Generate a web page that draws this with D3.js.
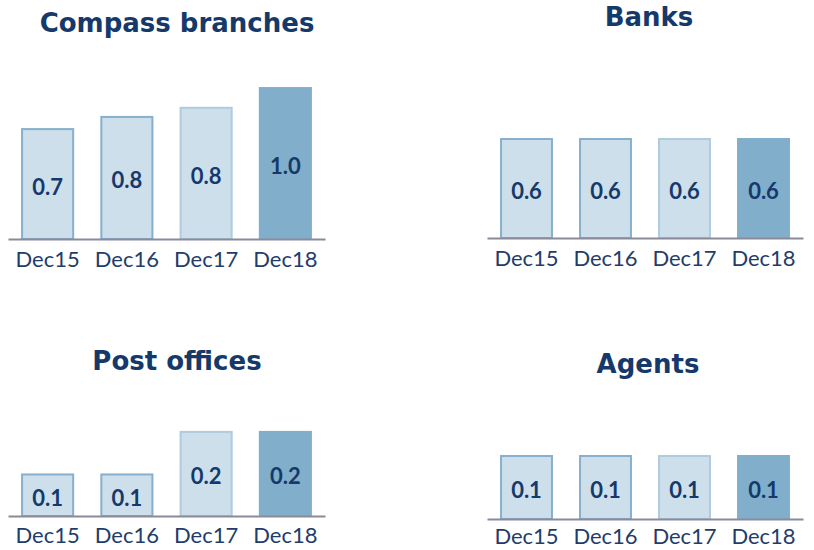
<!DOCTYPE html>
<html><head><meta charset="utf-8">
<script src="https://cdn.jsdelivr.net/npm/d3@7"></script>
<style>
html,body{margin:0;padding:0;background:#fff;}
svg{display:block;}
</style></head>
<body>
<svg id="chart" width="814" height="550"></svg>
<script>
const categories = ["Dec15", "Dec16", "Dec17", "Dec18"];
const compassValues = [0.73, 0.81, 0.87, 1.0];
const compassLabels = ["0.7", "0.8", "0.8", "1.0"];
const banksValues = [0.6, 0.6, 0.6, 0.6];
const banksLabels = ["0.6", "0.6", "0.6", "0.6"];
const postValues = [0.1, 0.1, 0.2, 0.2];
const postLabels = ["0.1", "0.1", "0.2", "0.2"];
const agentsValues = [0.1, 0.1, 0.1, 0.1];
const agentsLabels = ["0.1", "0.1", "0.1", "0.1"];
const titles = ["Compass branches", "Banks", "Post offices", "Agents"];

const panels = [
  {title: titles[0], values: compassValues, labels: compassLabels, x0: 8, x1: 325, base: 239, titleX: 177, titleY: 32, dmax: 1.053, tickY: 28},
  {title: titles[1], values: banksValues, labels: banksLabels, x0: 487, x1: 803, base: 238, titleX: 649, titleY: 26, dmax: 0.96, tickY: 28},
  {title: titles[2], values: postValues, labels: postLabels, x0: 8, x1: 325, base: 516, titleX: 177, titleY: 370, dmax: 0.376, tickY: 27},
  {title: titles[3], values: agentsValues, labels: agentsLabels, x0: 487, x1: 803, base: 519, titleX: 648, titleY: 373, dmax: 0.25, tickY: 25}
];
const plotH = 160;
const fills = ["#cddfeb", "#cddfeb", "#cddfeb", "#80aecb"];
const strokes = ["#86b0cc", "#86b0cc", "#afcbde", "#80aecb"];
const navy = "#15396a";

const svg = d3.select("#chart");

panels.forEach(p => {
  const g = svg.append("g");
  const x = d3.scaleBand().domain(categories).range([p.x0, p.x1]).paddingInner(0.33).paddingOuter(0.165);
  const y = d3.scaleLinear().domain([0, p.dmax]).range([p.base, p.base - plotH]);
  const data = categories.map((c, i) => ({c, v: p.values[i], l: p.labels[i], i}));

  g.selectAll("rect.bar").data(data).enter().append("rect")
    .attr("class", "bar")
    .attr("x", d => x(d.c) + 1)
    .attr("width", x.bandwidth() - 2)
    .attr("y", d => y(d.v) + 1)
    .attr("height", d => y(0) - y(d.v) - 1)
    .attr("fill", d => fills[d.i])
    .attr("stroke", d => strokes[d.i])
    .attr("stroke-width", 2);

  g.selectAll("text.val").data(data).enter().append("text")
    .attr("class", "val")
    .attr("x", d => x(d.c) + x.bandwidth() / 2)
    .attr("y", d => (y(d.v) + y(0)) / 2 + 11)
    .attr("text-anchor", "middle")
    .attr("font-family", "Lato, sans-serif")
    .attr("font-weight", "bold")
    .attr("font-size", 22)
    .attr("fill", navy)
    .text(d => d.l);

  const axis = d3.axisBottom(x).tickSize(0).tickPadding(0);
  const ag = g.append("g").attr("transform", `translate(0,${p.base})`).call(axis);
  ag.select(".domain").attr("stroke", "#8a8a99").attr("stroke-width", 2);
  ag.selectAll(".tick text")
    .attr("y", p.tickY)
    .attr("dy", 0)
    .attr("font-family", "Lato, sans-serif")
    .attr("font-size", 22)
    .attr("fill", "#1f3d6b");

  g.append("text")
    .attr("x", p.titleX)
    .attr("y", p.titleY)
    .attr("text-anchor", "middle")
    .attr("font-family", "'DejaVu Sans', sans-serif")
    .attr("font-weight", "bold")
    .attr("font-size", 26)
    .attr("fill", navy)
    .text(p.title);
});
</script>
</body></html>
